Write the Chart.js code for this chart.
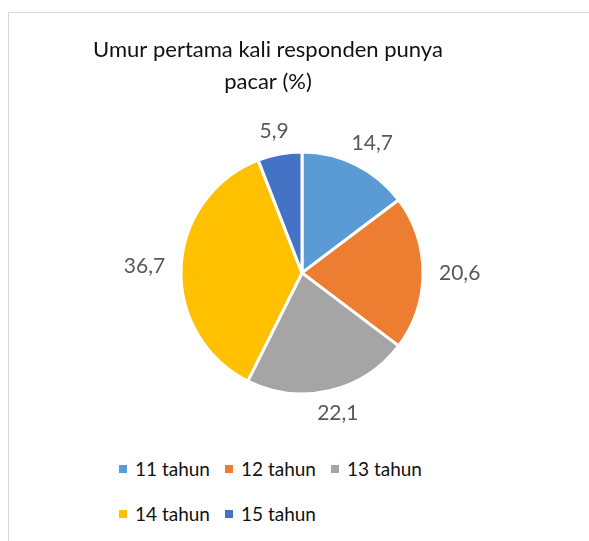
<!DOCTYPE html>
<html>
<head>
<meta charset="utf-8">
<script src="https://cdn.jsdelivr.net/npm/chart.js@4/dist/chart.umd.min.js"></script>
<style>
  html, body { margin: 0; padding: 0; background: #fff; overflow: hidden; }
  body { width: 589px; height: 541px; position: relative; }
  .frame { position: absolute; left: 8px; top: 12px; width: 700px; height: 700px; border: 1px solid #d9d9d9; }
  #pieChart { position: absolute; left: 0; top: 0; }
  #legend {
    position: absolute; left: 119px; top: 456px;
    display: grid; grid-template-columns: repeat(3, 106px);
    grid-auto-rows: 26px; row-gap: 19px;
    font: 19px Lato, sans-serif; color: #111;
  }
  #legend .item { display: flex; align-items: center; line-height: 26px; white-space: nowrap; }
  #legend .box { width: 8px; height: 8px; margin-right: 8px; }
</style>
</head>
<body>
<div class="frame"></div>
<canvas id="pieChart" width="589" height="445"></canvas>
<div id="legend"></div>
<script>
// Datos del gráfico
const titleLines = ['Umur pertama kali responden punya', 'pacar (%)'];
const categories = ['11 tahun', '12 tahun', '13 tahun', '14 tahun', '15 tahun'];
const percentages = [14.7, 20.6, 22.1, 36.7, 5.9];
const sliceColors = ['#5b9bd5', '#ed7d31', '#a5a5a5', '#ffc000', '#4472c4'];

// caja vacía a la izquierda para mover la torta sin mover el título
const leftSpacer = {
  id: 'leftSpacer',
  beforeInit(chart) {
    Chart.layouts.addBox(chart, {
      position: 'left',
      weight: 0,
      fullSize: false,
      options: {},
      left: 0, top: 0, right: 0, bottom: 0, width: 0, height: 0,
      isHorizontal() { return false; },
      update(maxWidth, maxHeight) {
        this.width = 68;
        this.height = maxHeight;
      },
      draw() {}
    });
  }
};

// etiquetas de valor fuera de cada porción
const outsideLabels = {
  id: 'outsideLabels',
  afterDatasetsDraw(chart) {
    const ctx = chart.ctx;
    const values = chart.data.datasets[0].data;
    ctx.save();
    ctx.font = '21px Lato';
    ctx.fillStyle = '#595959';
    ctx.textAlign = 'center';
    ctx.textBaseline = 'middle';
    chart.getDatasetMeta(0).data.forEach((arc, i) => {
      const p = arc.getProps(['x', 'y', 'startAngle', 'endAngle', 'outerRadius'], true);
      const mid = (p.startAngle + p.endAngle) / 2;
      const dx = Math.cos(mid);
      const dy = Math.sin(mid);
      const text = values[i].toFixed(1).replace('.', ',');
      const w = ctx.measureText(text).width;
      const h = 15;
      const gap = 16;
      const cx = p.x + dx * (p.outerRadius + gap) + dx * w / 2;
      const cy = p.y + dy * (p.outerRadius + gap) + dy * h / 2;
      ctx.fillText(text, cx, cy);
    });
    ctx.restore();
  }
};

const ctx = document.getElementById('pieChart').getContext('2d');
const pieChart = new Chart(ctx, {
  type: 'pie',
  data: {
    labels: categories,
    datasets: [{
      data: percentages,
      backgroundColor: sliceColors,
      borderColor: '#ffffff',
      borderWidth: 3
    }]
  },
  options: {
    responsive: false,
    animation: false,
    radius: 121,
    layout: {
      padding: { top: 0, left: 0, right: 53, bottom: 49 }
    },
    plugins: {
      legend: { display: false },
      tooltip: { enabled: false },
      title: {
        display: true,
        text: titleLines,
        color: '#111',
        font: { family: 'Lato', size: 22, weight: 'normal', lineHeight: 1.45 },
        padding: { top: 34, bottom: 52 }
      }
    }
  },
  plugins: [leftSpacer, outsideLabels]
});

// leyenda en HTML a partir de los items que genera Chart.js
const legendBox = document.getElementById('legend');
const items = pieChart.options.plugins.legend.labels.generateLabels(pieChart);
items.forEach(item => {
  const el = document.createElement('div');
  el.className = 'item';
  const box = document.createElement('span');
  box.className = 'box';
  box.style.background = item.fillStyle;
  const txt = document.createElement('span');
  txt.textContent = item.text;
  el.appendChild(box);
  el.appendChild(txt);
  legendBox.appendChild(el);
});
</script>
</body>
</html>
